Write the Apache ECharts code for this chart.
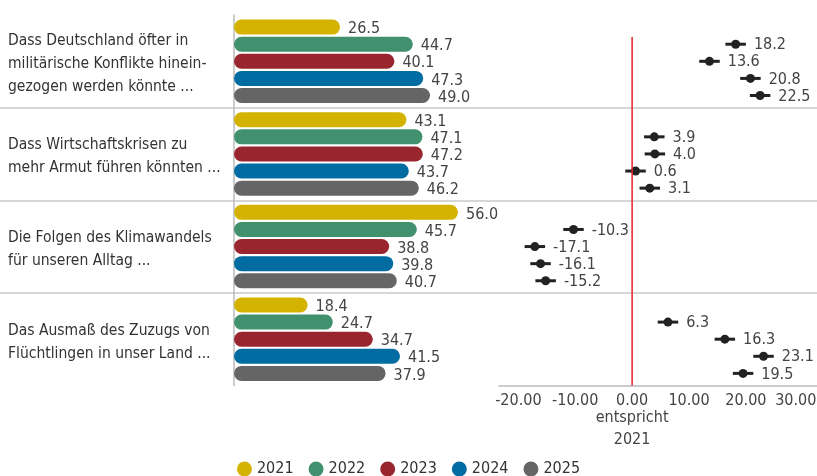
<!DOCTYPE html>
<html>
<head>
<meta charset="utf-8">
<script src="https://cdn.jsdelivr.net/npm/echarts@6/dist/echarts.min.js"></script>
<style>
  html, body { margin: 0; padding: 0; background: #fff; }
  #chart { width: 817px; height: 476px; }
</style>
</head>
<body>
<div id="chart"></div>
<script>
const categories = [
    'Dass Deutschland öfter in\nmilitärische Konflikte hinein-\ngezogen werden könnte ...',
    'Dass Wirtschaftskrisen zu\nmehr Armut führen könnten ...',
    'Die Folgen des Klimawandels\nfür unseren Alltag ...',
    'Das Ausmaß des Zuzugs von\nFlüchtlingen in unser Land ...'
];
const years = ['2021', '2022', '2023', '2024', '2025'];
const v2021 = [26.5, 43.1, 56.0, 18.4];
const v2022 = [44.7, 47.1, 45.7, 24.7];
const v2023 = [40.1, 47.2, 38.8, 34.7];
const v2024 = [47.3, 43.7, 39.8, 41.5];
const v2025 = [49.0, 46.2, 40.7, 37.9];
// Abweichung gegenüber 2021
const d2022 = [18.2, 3.9, -10.3, 6.3];
const d2023 = [13.6, 4.0, -17.1, 16.3];
const d2024 = [20.8, 0.6, -16.1, 23.1];
const d2025 = [22.5, 3.1, -15.2, 19.5];
const diffTicks = [-20, -10, 0, 10, 20, 30];
const ciHalf = 1.8;

const colors = ['#d3b300', '#41916f', '#99262f', '#006ca1', '#656565'];
const font = '"DejaVu Sans Condensed", "DejaVu Sans", sans-serif';
const barW = 15;
const slotStep = barW * 1.14;

const barValues = [v2021, v2022, v2023, v2024, v2025];
const diffValues = [d2022, d2023, d2024, d2025];

function renderDiff(slot) {
    return function (params, api) {
        const x = api.value(0), cat = api.value(1);
        const c = api.coord([x, cat]);
        const lo = api.coord([x - ciHalf, cat]);
        const hi = api.coord([x + ciHalf, cat]);
        const y = c[1] + (slot - 2) * slotStep;
        return {
            type: 'group',
            children: [
                { type: 'line', shape: { x1: lo[0], y1: y, x2: hi[0], y2: y },
                  style: { stroke: '#222', lineWidth: 3 } },
                { type: 'circle', shape: { cx: c[0], cy: y, r: 4.5 },
                  style: { fill: '#222' } },
                { type: 'text', style: { text: x.toFixed(1), x: hi[0] + 8, y: y + 1,
                  verticalAlign: 'middle', fill: '#444', font: '16px ' + font } }
            ]
        };
    };
}

const series = [];
years.forEach(function (y, i) {
    series.push({
        name: y,
        type: 'bar',
        xAxisIndex: 1,
        yAxisIndex: 1,
        data: barValues[i],
        barWidth: barW,
        barGap: '14%',
        itemStyle: { color: colors[i], borderRadius: 7.5 },
        label: {
            show: true,
            position: 'right',
            distance: 8,
            offset: [0, 2],
            color: '#444',
            fontSize: 16,
            formatter: function (p) { return p.value.toFixed(1); }
        }
    });
});
diffValues.forEach(function (arr, i) {
    series.push({
        name: 'diff' + years[i + 1],
        type: 'custom',
        xAxisIndex: 2,
        yAxisIndex: 2,
        renderItem: renderDiff(i + 1),
        data: arr.map(function (v, k) { return [v, k]; }),
        silent: true
    });
});

const option = {
    animation: false,
    textStyle: { fontFamily: font },
    legend: {
        data: years,
        top: 456,
        left: 'center',
        icon: 'circle',
        itemWidth: 15,
        itemHeight: 15,
        itemGap: 15,
        textStyle: { fontSize: 16, color: '#333' }
    },
    grid: [
        { left: 0, right: 0, top: 15, bottom: 90.5, outerBoundsMode: 'none' },
        { left: 234, width: 240, top: 15, bottom: 90.5, outerBoundsMode: 'none' },
        { left: 499, right: 0, top: 15, bottom: 90.5, outerBoundsMode: 'none' }
    ],
    xAxis: [
        { gridIndex: 0, type: 'value', show: false, min: 0, max: 1 },
        { gridIndex: 1, type: 'value', show: false, min: 0, max: 60 },
        {
            gridIndex: 2, type: 'value', min: -23.4, max: 32.5,
            axisLine: { show: true, lineStyle: { color: '#bbb', width: 1.5 } },
            axisTick: { show: false },
            splitLine: { show: false },
            axisLabel: {
                customValues: diffTicks,
                color: '#444',
                fontSize: 16,
                margin: 7,
                formatter: function (v) {
                    const s = v.toFixed(2);
                    return v === diffTicks[diffTicks.length - 1] ? '{r|' + s + '}' : s;
                },
                rich: { r: { fontSize: 16, color: '#444', padding: [0, 14, 0, 0] } }
            }
        }
    ],
    yAxis: [
        {
            gridIndex: 0, type: 'value', min: 0, max: 4, interval: 1,
            axisLine: { show: false }, axisTick: { show: false }, axisLabel: { show: false },
            splitLine: { show: true, showMinLine: false, showMaxLine: false,
                         lineStyle: { color: '#c8c8c8', width: 1.5 } }
        },
        {
            gridIndex: 1, type: 'category', inverse: true, data: categories,
            axisLine: { show: true, lineStyle: { color: '#bbb', width: 1.5 } },
            axisTick: { show: false },
            axisLabel: {
                align: 'left',
                margin: 226,
                color: '#333',
                fontSize: 15.5,
                lineHeight: 23,
                formatter: function (v) { return '{p| }\n' + v; },
                rich: { p: { fontSize: 4, lineHeight: 6 } }
            }
        },
        {
            gridIndex: 2, type: 'category', inverse: true, data: categories,
            show: false
        }
    ],
    series: series
};

const chart = echarts.init(document.getElementById('chart'));
chart.setOption(option);

const zeroX = chart.convertToPixel({ xAxisIndex: 2 }, 0);
const bottomY = chart.convertToPixel({ yAxisIndex: 0 }, 0);
chart.setOption({
    graphic: [
        { type: 'line', shape: { x1: zeroX, y1: 37, x2: zeroX, y2: bottomY },
          style: { stroke: '#e3242b', lineWidth: 1.5 }, z: 10 },
        { type: 'text', x: zeroX, y: 407,
          style: { text: 'entspricht\n2021', align: 'center', verticalAlign: 'top',
                   lineHeight: 22, fill: '#444', font: '16px ' + font } }
    ]
});
</script>
</body>
</html>
